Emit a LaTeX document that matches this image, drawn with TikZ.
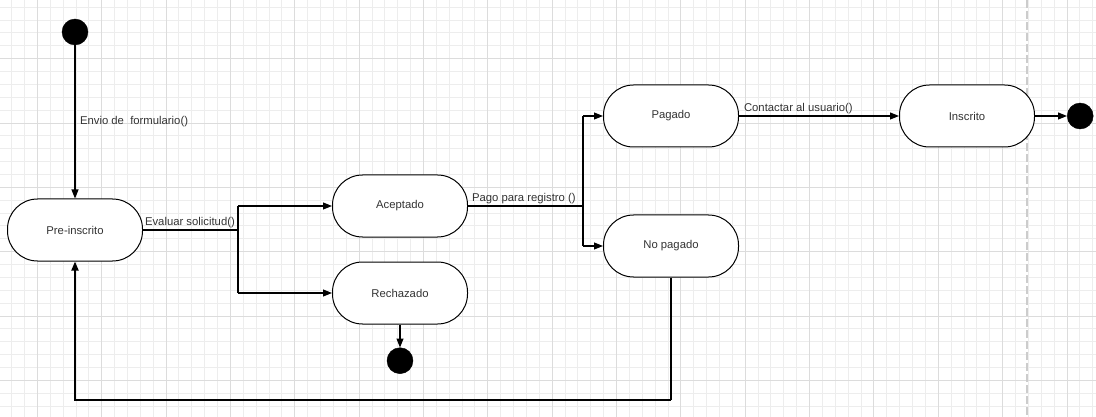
\documentclass[tikz,border=0pt]{standalone}
\usepackage{fontspec}
\setmainfont{Liberation Sans}
\usetikzlibrary{positioning, calc, arrows.meta}
\definecolor{txt}{HTML}{333333}
\definecolor{gridmin}{HTML}{EDEDED}
\definecolor{gridmaj}{HTML}{DCDCDC}
\tikzset{state/.style={draw,rectangle,rounded corners=30pt,fill=white,line width=1pt,minimum width=135pt,minimum height=62pt,inner sep=0pt,align=center,text=txt,font=\fontsize{11.3}{13}\selectfont}}
\tikzset{blob/.style={draw,circle,fill=black,minimum size=26pt,inner sep=0pt}}
\tikzset{conn/.style={-{Triangle[length=9pt,width=7pt]},line width=1.1pt}}
\tikzset{bar/.style={line width=1.7pt}}
\tikzset{lbl/.style={text=txt,font=\fontsize{11.3}{13}\selectfont,inner sep=1.5pt}}

\begin{document}
\begin{tikzpicture}[x=1pt, y=-1pt]
		\useasboundingbox (0,0) rectangle (1096,417);
		% Draw grid
		\foreach \k in {0,...,85} \draw[gridmin, line width=0.8pt] ({-1.31+12.87*\k},0) -- ++(0,417);
		\foreach \k in {0,...,32} \draw[gridmin, line width=0.8pt] (0,{7.1+12.87*\k}) -- ++(1096,0);
		\foreach \k in {3,8,...,83} \draw[gridmaj, line width=0.8pt] ({-1.31+12.87*\k},0) -- ++(0,417);
		\foreach \k in {4,9,...,29} \draw[gridmaj, line width=0.8pt] (0,{7.1+12.87*\k}) -- ++(1096,0);
		\draw[gray!40, line width=2.5pt, dash pattern=on 8pt off 3pt] (1027,0) -- (1027,417);
		% States
		\node[blob] (ini) at (75,32) {};
		\node[state] (pre) at (75,230) {Pre-inscrito};
		\node[state] (acep) at (400,206) {Aceptado};
		\node[state, below=24pt of acep] (rech) {Rechazado};
		\node[blob, below=23pt of rech] (fin1) {};
		\node[state] (pag) at (671,116) {Pagado};
		\node[state, below=67pt of pag] (nopag) {No pagado};
		\node[state, right=160pt of pag] (insc) {Inscrito};
		\node[blob, right=32pt of insc] (fin2) {};
		\coordinate (b1) at (238,230);
		\coordinate (b2) at (583,206);
		\coordinate (lp) at (75,400);
		% Transitions
		\draw[conn] (ini) -- node[lbl, right, xshift=3pt] {Envio de\ \ formulario()} (pre);
		\draw[line width=1.1pt] (pre) -- node[lbl, pos=0, anchor=south west] {Evaluar solicitud()} (b1);
		\draw[bar] (b1 |- acep) -- (b1 |- rech);
		\draw[conn] (b1 |- acep) -- (acep);
		\draw[conn] (b1 |- rech) -- (rech);
		\draw[conn] (rech) -- (fin1);
		\draw[line width=1.1pt] (acep) -- node[lbl, pos=0, anchor=south west, xshift=2pt] {Pago para registro ()} (b2);
		\draw[bar] (b2 |- pag) -- (b2 |- nopag);
		\draw[conn] (b2 |- pag) -- (pag);
		\draw[conn] (b2 |- nopag) -- (nopag);
		\draw[conn] (pag) -- node[lbl, pos=0, anchor=south west, xshift=3pt] {Contactar al usuario()} (insc);
		\draw[conn] (insc) -- (fin2);
		\draw[line width=1.1pt] (nopag) -- (nopag |- lp);
		\draw[conn, line width=1.7pt] (nopag |- lp) -- (lp) -- (pre);
	\end{tikzpicture}
\end{document}
